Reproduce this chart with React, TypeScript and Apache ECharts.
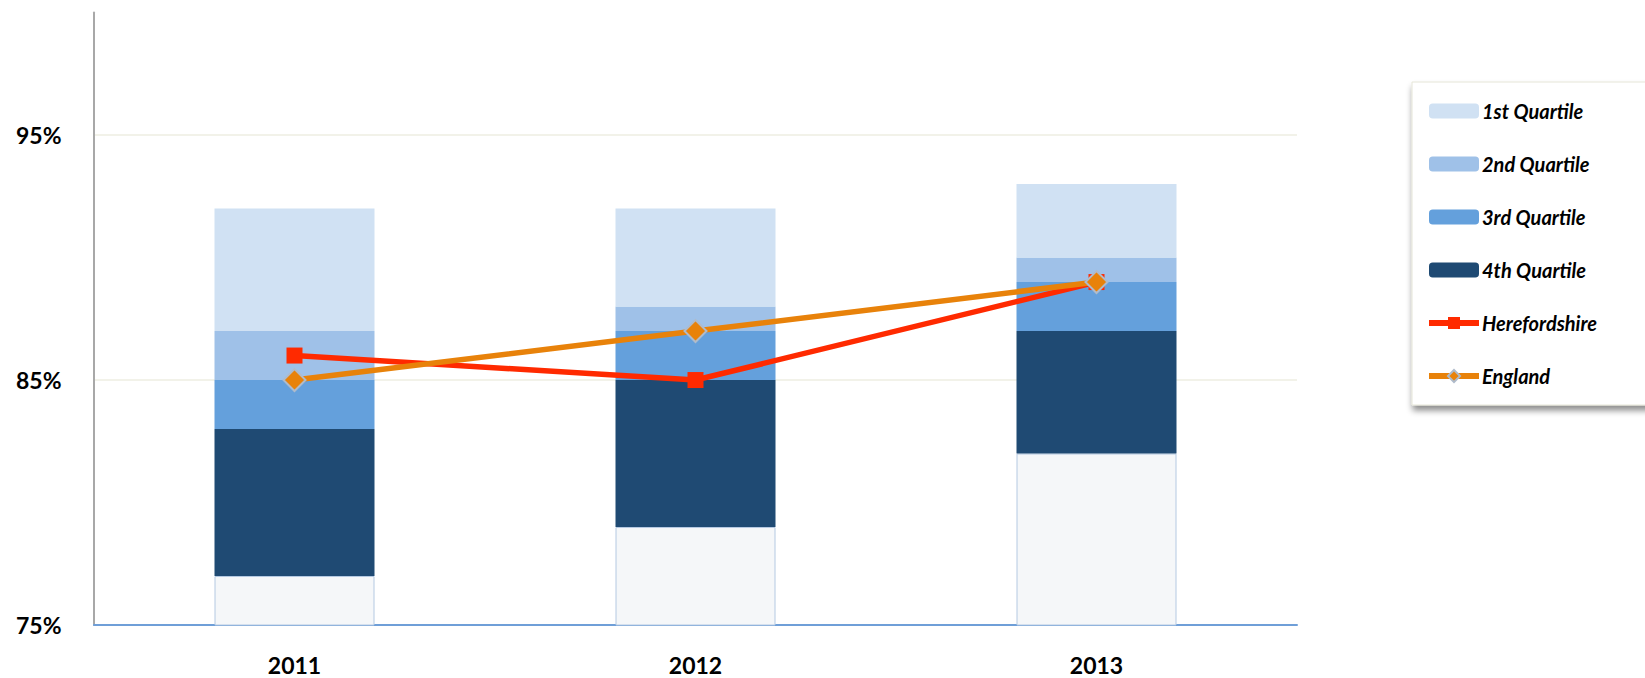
import React, { useEffect, useRef } from "react";
import * as echarts from "echarts";

const years = ["2011", "2012", "2013"];
// stacked segments (percentage points)
const baseValues = [77, 79, 82];
const q4Values = [6, 6, 5];
const q3Values = [2, 2, 2];
const q2Values = [2, 1, 1];
const q1Values = [5, 4, 3];
const herefordshire = [86, 85, 89];
const england = [85, 87, 89];
const yTicks = [75, 85, 95];

const FONT = "Lato, 'Open Sans', sans-serif";

export default function App() {
  const ref = useRef<HTMLDivElement>(null);
  useEffect(() => {
    if (!ref.current) return;
    const chart = echarts.init(ref.current, null, { renderer: "svg" });
    const barW = 160;
    const grid = "#EEEEE2";
    chart.setOption({
      animation: false,
      backgroundColor: "#ffffff",
      grid: { left: 94, right: 348, top: 12.6, bottom: 53, containLabel: false },
      legend: {
        left: 1412,
        top: 82,
        orient: "vertical",
        padding: [18, 60, 18, 14],
        itemWidth: 50,
        itemHeight: 15,
        itemGap: 31,
        backgroundColor: "#ffffff",
        borderColor: "#E6E6D8",
        borderWidth: 1,
        shadowColor: "rgba(0,0,0,0.45)",
        shadowBlur: 6,
        shadowOffsetX: 1,
        shadowOffsetY: 5,
        textStyle: {
          fontFamily: FONT,
          fontStyle: "italic",
          fontWeight: "bold",
          fontSize: 20,
          color: "#000",
          lineHeight: 22,
          padding: [0, 0, 0, -2],
        },
        data: [
          "1st Quartile",
          "2nd Quartile",
          "3rd Quartile",
          "4th Quartile",
          { name: "Herefordshire", lineStyle: { width: 6 } },
          { name: "England", lineStyle: { width: 6 } },
        ],
      },
      xAxis: {
        type: "category",
        data: years,
        axisLine: { lineStyle: { color: "#6F9FD8", width: 2 } },
        axisTick: { show: false },
        axisLabel: {
          margin: 29,
          fontFamily: FONT,
          fontWeight: "bold",
          fontSize: 23,
          lineHeight: 22,
          color: "#000",
        },
      },
      yAxis: {
        type: "value",
        min: 75,
        max: 100,
        interval: 10,
        axisLine: { show: true, lineStyle: { color: "#A8A8A8", width: 2 } },
        axisTick: { show: false },
        splitLine: {
          showMaxLine: false,
          lineStyle: { color: [grid, grid, grid, "rgba(0,0,0,0)"], width: 1.5 },
        },
        axisLabel: {
          margin: 78,
          align: "left",
          fontFamily: FONT,
          fontWeight: "bold",
          fontSize: 23,
          color: "#000",
          formatter: (v: number) => (yTicks.includes(v) ? v + "%" : ""),
        },
      },
      series: [
        {
          name: "Base",
          type: "bar",
          stack: "q",
          barWidth: barW,
          data: baseValues,
          itemStyle: { color: "#F5F7F9", borderColor: "#B4C9E2", borderWidth: 1 },
        },
        {
          name: "4th Quartile",
          type: "bar",
          stack: "q",
          barWidth: barW,
          data: q4Values,
          itemStyle: { color: "#1F4A73" },
        },
        {
          name: "3rd Quartile",
          type: "bar",
          stack: "q",
          barWidth: barW,
          data: q3Values,
          itemStyle: { color: "#64A0DC" },
        },
        {
          name: "2nd Quartile",
          type: "bar",
          stack: "q",
          barWidth: barW,
          data: q2Values,
          itemStyle: { color: "#9FC1E8" },
        },
        {
          name: "1st Quartile",
          type: "bar",
          stack: "q",
          barWidth: barW,
          data: q1Values,
          itemStyle: { color: "#D0E1F3" },
        },
        {
          name: "Herefordshire",
          type: "line",
          data: herefordshire,
          z: 5,
          symbol: "rect",
          symbolSize: 16,
          lineStyle: { color: "#FF2A00", width: 5.5 },
          itemStyle: { color: "#FF2A00" },
        },
        {
          name: "England",
          type: "line",
          data: england,
          z: 6,
          symbol: "diamond",
          symbolSize: 22,
          lineStyle: { color: "#E8820A", width: 5.5 },
          itemStyle: { color: "#E8820A", borderColor: "#AFBBCB", borderWidth: 2 },
        },
      ],
    });
    return () => chart.dispose();
  }, []);
  return (
    <div
      ref={ref}
      style={{ position: "fixed", left: 0, top: 0, width: 1645, height: 678, background: "#fff" }}
    />
  );
}
